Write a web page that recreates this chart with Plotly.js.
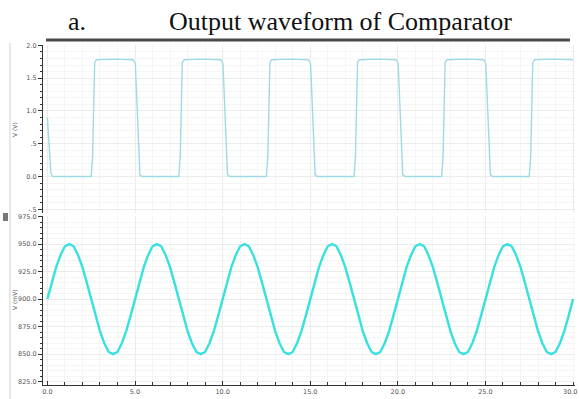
<!DOCTYPE html>
<html>
<head>
<meta charset="utf-8">
<script src="https://cdn.plot.ly/plotly-3.0.1.min.js"></script>
<style>html,body{margin:0;padding:0;background:#fff;}#chart{width:579px;height:399px;}</style>
</head>
<body>
<div id="chart"></div>
<script>
// Comparator output (V) vs time
const sqTime = [0, 0.1, 0.2, 0.3,
  2.5, 2.58, 2.64, 2.7, 2.8, 3.8, 4.9, 5.02, 5.1, 5.2, 5.28, 5.4,
  7.5, 7.58, 7.64, 7.7, 7.8, 8.8, 9.9, 10.02, 10.1, 10.2, 10.28, 10.4,
  12.5, 12.58, 12.64, 12.7, 12.8, 13.8, 14.9, 15.02, 15.1, 15.2, 15.28, 15.4,
  17.5, 17.58, 17.64, 17.7, 17.8, 18.8, 19.9, 20.02, 20.1, 20.2, 20.28, 20.4,
  22.5, 22.58, 22.64, 22.7, 22.8, 23.8, 24.9, 25.02, 25.1, 25.2, 25.28, 25.4,
  27.5, 27.58, 27.64, 27.7, 27.8, 28.8, 30.0];
const sqVolt = [0.9, 0.5, 0.05, 0.0,
  0.0, 0.3, 1.3, 1.74, 1.78, 1.79, 1.78, 1.72, 1.2, 0.4, 0.03, 0.0,
  0.0, 0.3, 1.3, 1.74, 1.78, 1.79, 1.78, 1.72, 1.2, 0.4, 0.03, 0.0,
  0.0, 0.3, 1.3, 1.74, 1.78, 1.79, 1.78, 1.72, 1.2, 0.4, 0.03, 0.0,
  0.0, 0.3, 1.3, 1.74, 1.78, 1.79, 1.78, 1.72, 1.2, 0.4, 0.03, 0.0,
  0.0, 0.3, 1.3, 1.74, 1.78, 1.79, 1.78, 1.72, 1.2, 0.4, 0.03, 0.0,
  0.0, 0.3, 1.3, 1.74, 1.78, 1.79, 1.78];

// Input sine (mV) sampled every 0.25 time units
const sinTime = [
  0,0.25,0.5,0.75,1,1.25,1.5,1.75,2,2.25,2.5,2.75,3,3.25,3.5,3.75,4,4.25,4.5,4.75,
  5,5.25,5.5,5.75,6,6.25,6.5,6.75,7,7.25,7.5,7.75,8,8.25,8.5,8.75,9,9.25,9.5,9.75,
  10,10.25,10.5,10.75,11,11.25,11.5,11.75,12,12.25,12.5,12.75,13,13.25,13.5,13.75,14,14.25,14.5,14.75,
  15,15.25,15.5,15.75,16,16.25,16.5,16.75,17,17.25,17.5,17.75,18,18.25,18.5,18.75,19,19.25,19.5,19.75,
  20,20.25,20.5,20.75,21,21.25,21.5,21.75,22,22.25,22.5,22.75,23,23.25,23.5,23.75,24,24.25,24.5,24.75,
  25,25.25,25.5,25.75,26,26.25,26.5,26.75,27,27.25,27.5,27.75,28,28.25,28.5,28.75,29,29.25,29.5,29.75,30];
const sinMv = [
  900,915,929,940,948,950,948,940,929,915,900,885,871,860,852,850,852,860,871,885,
  900,915,929,940,948,950,948,940,929,915,900,885,871,860,852,850,852,860,871,885,
  900,915,929,940,948,950,948,940,929,915,900,885,871,860,852,850,852,860,871,885,
  900,915,929,940,948,950,948,940,929,915,900,885,871,860,852,850,852,860,871,885,
  900,915,929,940,948,950,948,940,929,915,900,885,871,860,852,850,852,860,871,885,
  900,915,929,940,948,950,948,940,929,915,900,885,871,860,852,850,852,860,871,885,900];

const xTickVals = [0, 5, 10, 15, 20, 25, 30];
const xTickText = ["0.0", "5.0", "10.0", "15.0", "20.0", "25.0", "30.0"];
const topTickVals = [-0.5, 0, 0.5, 1.0, 1.5, 2.0];
const topTickText = ["-.5", "0.0", ".5", "1.0", "1.5", "2.0"];
const botTickVals = [825, 850, 875, 900, 925, 950, 975];
const botTickText = ["825.0", "850.0", "875.0", "900.0", "925.0", "950.0", "975.0"];

const tickFont = {family: "DejaVu Sans", size: 6.5, color: "#555"};
const gridC = "#ececec", minorGridC = "#f5f5f5";

const traces = [
  {x: sqTime, y: sqVolt, xaxis: "x2", yaxis: "y2", mode: "lines",
   line: {color: "#9fdbe6", width: 1.4}, hoverinfo: "skip"},
  {x: sinTime, y: sinMv, xaxis: "x", yaxis: "y", mode: "lines",
   line: {color: "#38e0e0", width: 2.4, shape: "linear"}, hoverinfo: "skip"}
];

const layout = {
  width: 579, height: 399,
  margin: {l: 43, r: 4, t: 45, b: 14},
  paper_bgcolor: "#fff", plot_bgcolor: "#fff",
  showlegend: false,
  xaxis: {domain: [0, 1], range: [-0.25, 30.11], anchor: "y",
    tickvals: xTickVals.slice(0, 6), ticktext: xTickText.slice(0, 6), tickfont: tickFont,
    ticks: "inside", ticklen: 4, tickcolor: "#333",
    showline: true, linecolor: "#333", linewidth: 1,
    showgrid: true, gridcolor: gridC, zeroline: false,
    minor: {dtick: 1, ticks: "inside", ticklen: 3, tickcolor: "#333", showgrid: true, gridcolor: minorGridC}},
  yaxis: {domain: [0, 0.497], range: [822, 975.5], anchor: "x",
    tickvals: botTickVals, ticktext: botTickText, tickfont: tickFont,
    ticks: "outside", ticklen: 4, tickcolor: "#333",
    showline: true, linecolor: "#333", linewidth: 1,
    showgrid: true, gridcolor: gridC, zeroline: false,
    minor: {dtick: 5, ticks: "outside", ticklen: 2, tickcolor: "#333", showgrid: true, gridcolor: minorGridC}},
  xaxis2: {domain: [0, 1], range: [-0.25, 30.11], anchor: "y2",
    showticklabels: false, ticks: "", showline: false,
    showgrid: true, gridcolor: gridC, zeroline: false, dtick: 5,
    minor: {dtick: 1, showgrid: true, gridcolor: minorGridC}},
  yaxis2: {domain: [0.506, 1], range: [-0.555, 2.005], anchor: "x2",
    tickvals: topTickVals, ticktext: topTickText, tickfont: tickFont,
    ticks: "outside", ticklen: 4, tickcolor: "#333",
    showline: true, linecolor: "#333", linewidth: 1,
    showgrid: true, gridcolor: gridC, zeroline: false,
    minor: {dtick: 0.1, ticks: "outside", ticklen: 2, tickcolor: "#333", showgrid: true, gridcolor: minorGridC}},
  annotations: [
    {text: "a.", xref: "paper", yref: "paper", x: (77 - 43) / 532, y: 1 + (45 - 21) / 340,
     xanchor: "center", yanchor: "middle", showarrow: false,
     font: {family: "Liberation Serif", size: 26, color: "#111"}},
    {text: "Output waveform of Comparator", xref: "paper", yref: "paper", x: (340 - 43) / 532, y: 1 + (45 - 21) / 340,
     xanchor: "center", yanchor: "middle", showarrow: false,
     font: {family: "Liberation Serif", size: 26, color: "#111"}},
    {text: "V (V)", xref: "paper", yref: "paper", x: (14 - 43) / 532, y: 1 - (130 - 45) / 340,
     xanchor: "center", yanchor: "middle", textangle: -90, showarrow: false,
     font: {family: "DejaVu Sans", size: 6, color: "#555"}},
    {text: "V (mV)", xref: "paper", yref: "paper", x: (14 - 43) / 532, y: 1 - (300 - 45) / 340,
     xanchor: "center", yanchor: "middle", textangle: -90, showarrow: false,
     font: {family: "DejaVu Sans", size: 6, color: "#555"}},
    {text: xTickText[6], xref: "paper", yref: "paper", x: 1 + 3 / 532, y: -7 / 340,
     xanchor: "right", yanchor: "middle", showarrow: false, borderpad: 0,
     font: tickFont}
  ],
  shapes: [
    {type: "line", xref: "paper", yref: "paper", x0: (46 - 43) / 532, x1: (570 - 43) / 532,
     y0: 1 + 5 / 340, y1: 1 + 5 / 340, line: {color: "#4a4a4a", width: 3}},
    {type: "line", xref: "paper", yref: "paper", x0: (10 - 43) / 532, x1: (10 - 43) / 532,
     y0: 1 + 2 / 340, y1: -14 / 340, line: {color: "#d0d0d0", width: 1}},
    {type: "rect", xref: "paper", yref: "paper", x0: (3 - 43) / 532, x1: (8 - 43) / 532,
     y0: 1 - (221 - 45) / 340, y1: 1 - (213 - 45) / 340, fillcolor: "#777", line: {width: 0}}
  ]
};

Plotly.newPlot("chart", traces, layout, {displayModeBar: false, staticPlot: true});
</script>
</body>
</html>
